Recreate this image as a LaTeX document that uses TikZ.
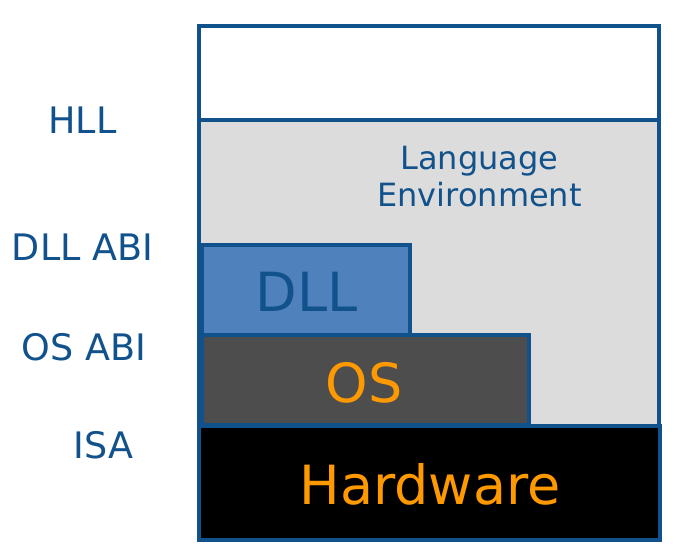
\documentclass[tikz,border=0pt]{standalone}
\usepackage{fontspec}
\setmainfont{DejaVu Sans}
\usepackage{tikz}
\definecolor{abiblue}{RGB}{17,82,140}
\definecolor{envgray}{RGB}{220,220,220}
\definecolor{dllblue}{RGB}{79,129,189}
\definecolor{osgray}{RGB}{77,77,77}
\definecolor{hworange}{RGB}{255,153,0}

\begin{document}
\begin{tikzpicture}[x=1bp, y=-1bp, layer/.style={draw=abiblue, line width=4bp},
			abilabel/.style={anchor=base, text=abiblue, font=\fontsize{36.5bp}{40bp}\selectfont},
			biglabel/.style={anchor=base, font=\fontsize{54bp}{60bp}\selectfont}]
			\useasboundingbox (0,0) rectangle (677,558);

			% Layers
			\filldraw[layer, fill=envgray] (198.5,120) rectangle (658.5,426);
			\filldraw[layer, fill=white] (198.5,26) rectangle (658.5,120);
			\filldraw[layer, fill=dllblue] (202,245) rectangle (410,335);
			\filldraw[layer, fill=osgray] (202,335) rectangle (529,425);
			\filldraw[layer, fill=black] (198.5,426) rectangle (659.5,540);

			% Layer names
			\node[abilabel, font=\fontsize{32bp}{37bp}\selectfont] (langtop) at (479.5,170) {Language};
			\node[abilabel, font=\fontsize{32bp}{37bp}\selectfont] (langbot) at (479.5,207) {Environment};
			\node[biglabel, text=abiblue] (dll) at (306.5,311) {DLL};
			\node[biglabel, text=hworange] (os) at (364,402.5) {OS};
			\node[biglabel, text=hworange] (hw) at (430,504) {Hardware};

			% Interfaces
			\node[abilabel] (hll) at (82.5,134) {HLL};
			\node[abilabel] (dllabi) at (82.5,261) {DLL ABI};
			\node[abilabel] (osabi) at (84,360) {OS ABI};
			\node[abilabel] (isa) at (103.5,458) {ISA};
		\end{tikzpicture}
\end{document}
